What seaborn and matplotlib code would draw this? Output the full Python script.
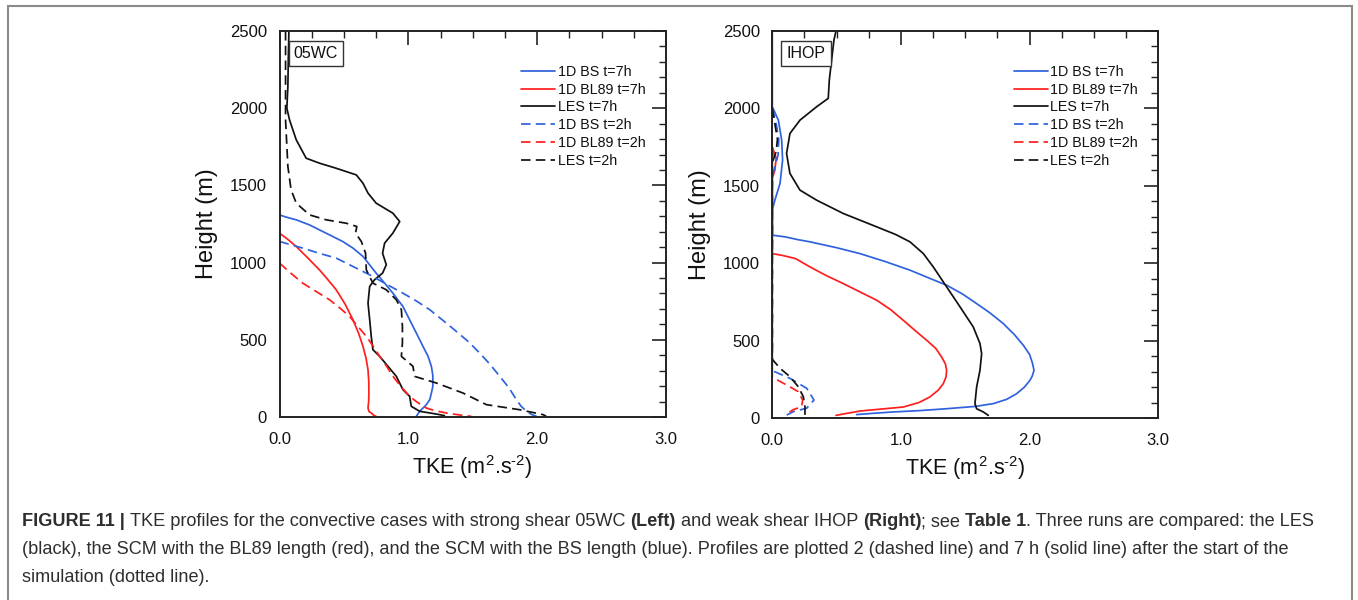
import numpy as np
import pandas as pd
import matplotlib
matplotlib.use("Agg")
import matplotlib.pyplot as plt
import matplotlib.patches as mpatches
import seaborn as sns

# ---- 05WC (strong shear) profiles: TKE (m2/s2) vs height (m) ----
wc_les7_tke = [0.073, 0.068, 0.065, 0.057, 0.078, 0.13, 0.207, 0.31, 0.44, 0.596, 0.648, 0.687, 0.75,
               0.88, 0.933, 0.88, 0.816, 0.80, 0.829, 0.80, 0.738, 0.70, 0.687, 0.70, 0.712, 0.725,
               0.777, 0.842, 0.907, 0.958, 1.01, 1.023, 1.088, 1.218, 1.28]
wc_les7_z = [2500, 2300, 2140, 2000, 1924, 1795, 1676, 1644, 1611, 1568, 1514, 1450, 1385,
             1320, 1266, 1191, 1126, 1061, 986, 932, 889, 846, 738, 630, 522, 436,
             393, 328, 263, 177, 134, 69, 37, 19, 9]
wc_les2_tke = [0.047, 0.047, 0.047, 0.065, 0.09, 0.13, 0.233, 0.363, 0.518, 0.60, 0.59, 0.635, 0.668,
               0.674, 0.725, 0.829, 0.907, 0.946, 0.954, 0.954, 0.946, 1.036, 1.049, 1.218, 1.425,
               1.606, 1.865, 2.047, 2.07]
wc_les2_z = [2500, 2200, 1924, 1622, 1471, 1385, 1309, 1277, 1255, 1234, 1191, 1137, 1061,
             953, 867, 824, 759, 695, 587, 479, 393, 328, 263, 220, 155,
             80, 47, 15, 5]
wc_bs7_tke = [0.0, 0.05, 0.13, 0.233, 0.31, 0.49, 0.57, 0.648, 0.75, 0.816, 0.88, 0.958, 1.01,
              1.062, 1.114, 1.153, 1.179, 1.19, 1.19, 1.179, 1.166, 1.14, 1.114, 1.088, 1.062]
wc_bs7_z = [1309, 1295, 1277, 1244, 1212, 1137, 1094, 1040, 932, 867, 802, 716, 630,
            544, 457, 393, 328, 270, 198, 155, 112, 80, 58, 37, 4]
wc_bs2_tke = [0.0, 0.07, 0.18, 0.31, 0.44, 0.57, 0.70, 0.83, 0.958, 1.065, 1.166, 1.27, 1.373,
              1.47, 1.554, 1.635, 1.71, 1.78, 1.839, 1.875, 1.917, 1.96, 1.995]
wc_bs2_z = [1137, 1120, 1094, 1060, 1029, 975, 921, 860, 802, 750, 695, 625, 554,
            485, 414, 340, 263, 190, 112, 70, 37, 15, 4]
wc_bl7_tke = [0.0, 0.065, 0.13, 0.22, 0.31, 0.375, 0.44, 0.51, 0.57, 0.615, 0.648, 0.672, 0.687,
              0.693, 0.694, 0.692, 0.687, 0.695, 0.712, 0.73, 0.75]
wc_bl7_z = [1191, 1150, 1104, 1030, 953, 890, 824, 730, 630, 540, 457, 380, 306,
            230, 155, 100, 58, 35, 26, 12, 4]
wc_bl2_tke = [0.0, 0.09, 0.18, 0.29, 0.389, 0.47, 0.544, 0.61, 0.674, 0.73, 0.777, 0.83, 0.881,
              0.94, 1.01, 1.07, 1.14, 1.21, 1.295, 1.39, 1.49]
wc_bl2_z = [997, 930, 867, 810, 759, 705, 651, 585, 522, 455, 393, 330, 263,
            200, 134, 95, 58, 40, 26, 14, 4]

# ---- IHOP (weak shear) profiles ----
ih_les7_tke = [0.495, 0.479, 0.461, 0.443, 0.435, 0.345, 0.215, 0.137, 0.111, 0.137, 0.215, 0.345,
               0.552, 0.811, 0.96, 1.07, 1.174, 1.251, 1.355, 1.459, 1.562, 1.614, 1.627, 1.614,
               1.588, 1.575, 1.588, 1.64, 1.679]
ih_les7_z = [2500, 2441, 2312, 2183, 2065, 2011, 1924, 1838, 1709, 1580, 1472, 1407,
             1321, 1235, 1185, 1138, 1062, 976, 847, 718, 588, 481, 416, 308,
             200, 93, 60, 39, 17]
ih_bs7_tke = [0.0, 0.0, 0.047, 0.073, 0.08, 0.06, 0.02, 0.0, 0.0, 0.1, 0.2, 0.293, 0.5, 0.681,
              0.88, 1.07, 1.23, 1.355, 1.48, 1.588, 1.69, 1.795, 1.88, 1.951, 2.0, 2.023, 2.034,
              2.02, 2.003, 1.96, 1.899, 1.82, 1.718, 1.58, 1.355, 1.15, 0.94, 0.78, 0.655]
ih_bs7_z = [2500, 2011, 1924, 1795, 1666, 1515, 1407, 1343, 1181, 1170, 1152, 1138, 1100, 1062,
            1010, 955, 900, 858, 800, 739, 680, 610, 540, 470, 410, 351, 308,
            270, 244, 200, 157, 120, 93, 75, 60, 48, 39, 30, 22]
ih_bl7_tke = [0.0, 0.03, 0.02, 0.0, 0.0, 0.08, 0.18, 0.293, 0.42, 0.552, 0.68, 0.811, 0.92, 1.018,
              1.11, 1.2, 1.27, 1.316, 1.345, 1.355, 1.35, 1.329, 1.29, 1.225, 1.14, 1.018, 0.85,
              0.681, 0.58, 0.495]
ih_bl7_z = [1750, 1680, 1600, 1550, 1062, 1050, 1030, 976, 920, 868, 815, 761, 700, 631,
            565, 502, 450, 394, 350, 308, 265, 222, 180, 136, 100, 71, 58,
            45, 30, 17]
ih_bs2_tke = [0.0, 0.03, 0.05, 0.045, 0.02, 0.0, 0.0, 0.137, 0.267, 0.324, 0.267, 0.163, 0.112]
ih_bs2_z = [2000, 1900, 1800, 1700, 1620, 1560, 306, 256, 192, 116, 63, 41, 19]
ih_les2_tke = [0.0, 0.02, 0.04, 0.03, 0.0, 0.0, 0.06, 0.137, 0.202, 0.241, 0.254, 0.254]
ih_les2_z = [2000, 1900, 1800, 1720, 1650, 379, 321, 267, 202, 138, 73, 8]
ih_bl2_tke = [0.0, 0.015, 0.0, 0.0, 0.112, 0.202, 0.236, 0.228, 0.163, 0.099]
ih_bl2_z = [1750, 1700, 1650, 263, 213, 170, 116, 73, 54, 19]

labels = ["1D BS t=7h", "1D BL89 t=7h", "LES t=7h", "1D BS t=2h", "1D BL89 t=2h", "LES t=2h"]
panel_names = ["05WC", "IHOP"]
x_ticks = [0.0, 1.0, 2.0, 3.0]
x_ticklabels = ["0.0", "1.0", "2.0", "3.0"]
y_ticks = [0, 500, 1000, 1500, 2000, 2500]

BLUE = "#2f62dc"
RED = "#ff1e1e"
BLACK = "#111111"
DASH = (0, (5.5, 3.0))

sns.set_theme(style="white")
plt.rcParams["font.family"] = ["Liberation Sans", "DejaVu Sans"]
plt.rcParams["mathtext.fontset"] = "custom"
plt.rcParams["mathtext.rm"] = "Liberation Sans"
plt.rcParams["mathtext.it"] = "Liberation Sans:italic"
plt.rcParams["mathtext.bf"] = "Liberation Sans:bold"

W, H = 1358, 600
fig = plt.figure(figsize=(W / 100, H / 100), dpi=100)
fig.patch.set_facecolor("white")


def px_axes(x0, y0, x1, y1):
    return fig.add_axes([x0 / W, 1 - y1 / H, (x1 - x0) / W, (y1 - y0) / H])


ax_l = px_axes(279.5, 31, 666, 417)
ax_r = px_axes(772.3, 31, 1158.3, 418)

panels = [
    (ax_l, [(wc_bs7_tke, wc_bs7_z), (wc_bl7_tke, wc_bl7_z), (wc_les7_tke, wc_les7_z),
            (wc_bs2_tke, wc_bs2_z), (wc_bl2_tke, wc_bl2_z), (wc_les2_tke, wc_les2_z)]),
    (ax_r, [(ih_bs7_tke, ih_bs7_z), (ih_bl7_tke, ih_bl7_z), (ih_les7_tke, ih_les7_z),
            (ih_bs2_tke, ih_bs2_z), (ih_bl2_tke, ih_bl2_z), (ih_les2_tke, ih_les2_z)]),
]
colors = [BLUE, RED, BLACK, BLUE, RED, BLACK]
styles = ["-", "-", "-", DASH, DASH, DASH]

for (ax, series), name in zip(panels, panel_names):
    for (tke, z), lab, col, ls in zip(series, labels, colors, styles):
        df = pd.DataFrame({"tke": tke, "z": z})
        sns.lineplot(data=df, x="tke", y="z", sort=False, estimator=None, ax=ax,
                     color=col, linestyle=ls, linewidth=1.25, label=lab, clip_on=True)

    ax.set_xlim(0, 3)
    ax.set_ylim(0, 2500)
    ax.set_xticks(x_ticks)
    ax.set_xticklabels(x_ticklabels)
    ax.set_yticks(y_ticks)
    ax.set_yticklabels([str(v) for v in y_ticks])
    ax.set_xticks(np.arange(0, 3.01, 0.25), minor=True)
    ax.set_yticks(np.arange(0, 2501, 100), minor=True)
    ax.tick_params(axis="both", which="major", direction="in", length=10, width=1.2,
                   top=True, right=True, labelsize=12, color="#222222", labelcolor="#111111")
    ax.tick_params(axis="x", which="major", pad=11)
    ax.tick_params(axis="y", which="major", pad=9)
    ax.tick_params(axis="both", which="minor", direction="in", length=5, width=1.0,
                   top=True, right=True, color="#222222")
    for sp in ax.spines.values():
        sp.set_visible(True)
        sp.set_linewidth(1.4)
        sp.set_color("#222222")
    ax.set_facecolor("white")
    ax.grid(False)

    ax.set_ylabel("Height (m)", fontsize=17, color="#111111")
    ax.yaxis.set_label_coords(-0.16, 0.5)
    ax.set_xlabel(r"TKE (m$^{2}$.s$^{\text{-}2}$)", fontsize=15.5, color="#111111")
    ax.xaxis.set_label_coords(0.5, -0.093)

    leg = ax.legend(loc="upper left", bbox_to_anchor=(0.625, 0.912), frameon=False,
                    fontsize=10.3, handlelength=2.4, handletextpad=0.15, labelspacing=0.26,
                    borderpad=0, borderaxespad=0)
    for t in leg.get_texts():
        t.set_color("#111111")

    ax.text(0.037, 0.962, name, transform=ax.transAxes, ha="left", va="top", fontsize=11.5,
            color="#111111",
            bbox=dict(boxstyle="square,pad=0.32", facecolor="white", edgecolor="#333333", linewidth=1.0))

# Outer frame around the figure
frame = mpatches.Rectangle((8 / W, -0.02), (1352 - 8) / W, 1.02 - 6 / H, transform=fig.transFigure,
                           fill=False, edgecolor="#8a8a8a", linewidth=1.5, clip_on=False)
fig.add_artist(frame)

# Caption with mixed weights
caption_lines = [
    [("FIGURE 11 | ", "bold"), ("TKE profiles for the convective cases with strong shear 05WC ", "normal"),
     ("(Left)", "bold"), (" and weak shear IHOP ", "normal"), ("(Right)", "bold"), ("; see ", "normal"),
     ("Table 1", "bold"), (". Three runs are compared: the LES", "normal")],
    [("(black), the SCM with the BL89 length (red), and the SCM with the BS length (blue). Profiles are plotted 2 (dashed line) and 7 h (solid line) after the start of the", "normal")],
    [("simulation (dotted line).", "normal")],
]
caption_y = [522, 550, 577]
renderer = fig.canvas.get_renderer()
for segs, ypx in zip(caption_lines, caption_y):
    x = 22.0
    for txt, wt in segs:
        t = fig.text(x / W, 1 - ypx / H, txt, fontsize=13.05, fontweight=wt, color="#2e2e2e",
                     ha="left", va="center")
        bb = t.get_window_extent(renderer=renderer)
        x += bb.width

fig.savefig("out.png", dpi=100, facecolor="white")
